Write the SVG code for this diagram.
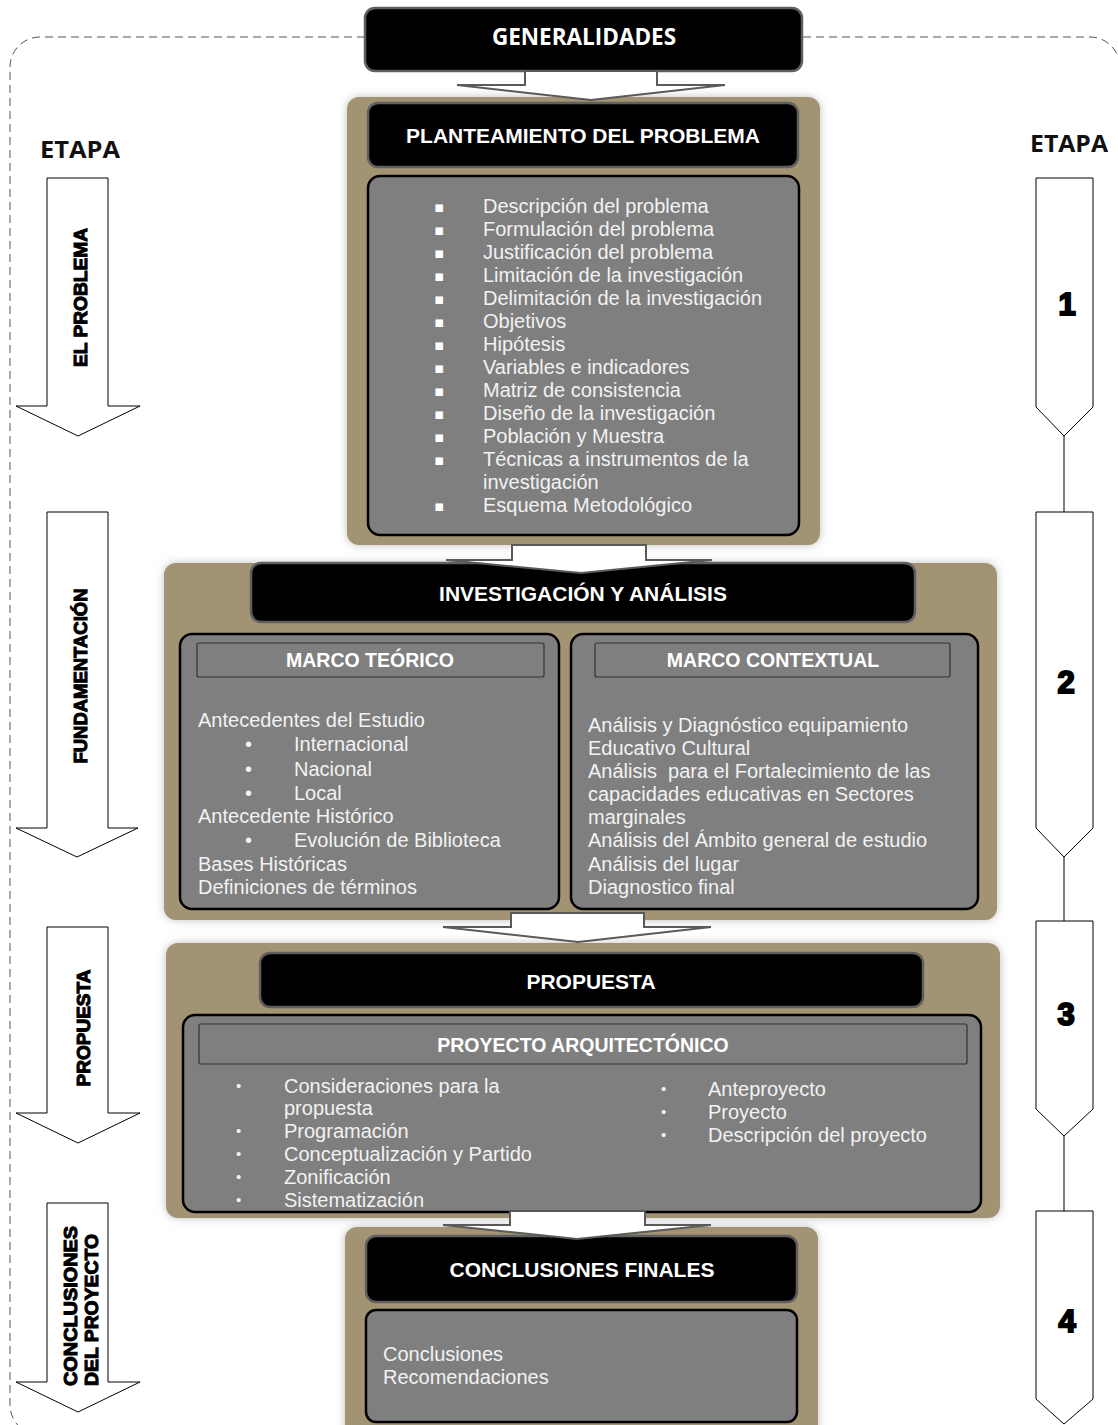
<svg xmlns="http://www.w3.org/2000/svg" width="1118" height="1425" viewBox="0 0 1118 1425">
<defs>
<filter id="sh" x="-5%" y="-5%" width="110%" height="110%">
<feDropShadow dx="0" dy="0" stdDeviation="4" flood-color="#8a8a8a" flood-opacity="0.55"/>
</filter>
<style>
.panel{fill:#A29473;filter:url(#sh)}
.hdr{fill:#000;stroke:#606060;stroke-width:2.5}
.box{fill:#7F7F7F;stroke:#000;stroke-width:2.5}
.sub{fill:#7F7F7F;stroke:#333;stroke-width:1.2}
.ht{font-family:"Liberation Sans",Arial,sans-serif;font-weight:bold;font-size:21px;fill:#fff;text-anchor:middle}
.st{font-family:"Liberation Sans",Arial,sans-serif;font-weight:bold;font-size:19.5px;fill:#fff;text-anchor:middle}
.bt{font-family:"Liberation Sans",Arial,sans-serif;font-size:20px;fill:#F2F2F2}
.sq{font-family:"DejaVu Sans",sans-serif;font-size:15px;fill:#fff}
.blk{fill:#fff;stroke:#5a5a5a;stroke-width:2}
.side{fill:#fff;stroke:#000;stroke-width:1}
.vt{font-family:"Liberation Sans",Arial,sans-serif;font-weight:bold;font-size:19px;fill:#000;stroke:#000;stroke-width:1.1}
.num{font-family:"Liberation Sans",Arial,sans-serif;font-weight:bold;font-size:31px;fill:#000;stroke:#000;stroke-width:2;text-anchor:middle}
.et{font-family:"Open Sans","Liberation Sans",sans-serif;font-weight:bold;font-size:24px;fill:#111}
</style>
</defs>
<rect width="1118" height="1425" fill="#fff"/>

<g id="frame">
<path d="M365,37 H40 A30,30 0 0 0 10,67 V1405 A30,30 0 0 0 40,1435" fill="none" stroke="#555" stroke-width="1" stroke-dasharray="8 5"/>
<path d="M803,37 H1090 A30,30 0 0 1 1120,67" fill="none" stroke="#555" stroke-width="1" stroke-dasharray="8 5"/>
</g>

<g id="etapa-left"><text class="et" x="40" y="158" textLength="80" lengthAdjust="spacingAndGlyphs">ETAPA</text></g>
<g id="etapa-right"><text class="et" x="1030" y="152" textLength="78" lengthAdjust="spacingAndGlyphs">ETAPA</text></g>

<g id="generalidades">
<rect class="hdr" x="365" y="8" width="437" height="63" rx="10"/>
<text x="584" y="45" font-family="'Open Sans','Liberation Sans',sans-serif" font-weight="bold" font-size="22.5" fill="#fff" text-anchor="middle">GENERALIDADES</text>
</g>

<g id="stage1">
<rect class="panel" x="347" y="97" width="473" height="448" rx="12"/>
<rect class="hdr" x="368" y="103" width="430" height="64" rx="10"/>
<text class="ht" x="583" y="143">PLANTEAMIENTO DEL PROBLEMA</text>
<rect class="box" x="368" y="176" width="431" height="359" rx="12"/>
<g class="sq">
<text x="434" y="212">▪</text><text x="434" y="235">▪</text><text x="434" y="258">▪</text><text x="434" y="281">▪</text><text x="434" y="304">▪</text><text x="434" y="327">▪</text><text x="434" y="350">▪</text><text x="434" y="373">▪</text><text x="434" y="396">▪</text><text x="434" y="419">▪</text><text x="434" y="442">▪</text><text x="434" y="465">▪</text><text x="434" y="511">▪</text>
</g>
<g class="bt">
<text x="483" y="213">Descripción del problema</text>
<text x="483" y="236">Formulación del problema</text>
<text x="483" y="259">Justificación del problema</text>
<text x="483" y="282">Limitación de la investigación</text>
<text x="483" y="305">Delimitación de la investigación</text>
<text x="483" y="328">Objetivos</text>
<text x="483" y="351">Hipótesis</text>
<text x="483" y="374">Variables e indicadores</text>
<text x="483" y="397">Matriz de consistencia</text>
<text x="483" y="420">Diseño de la investigación</text>
<text x="483" y="443">Población y Muestra</text>
<text x="483" y="466">Técnicas a instrumentos de la</text>
<text x="483" y="489">investigación</text>
<text x="483" y="512">Esquema Metodológico</text>
</g>
</g>

<g id="stage2">
<rect class="panel" x="164" y="563" width="833" height="357" rx="12"/>
<rect class="hdr" x="251" y="563" width="664" height="59" rx="10"/>
<text class="ht" x="583" y="601">INVESTIGACIÓN Y ANÁLISIS</text>
<g id="marco-teorico">
<rect class="box" x="180" y="634" width="379" height="275" rx="12"/>
<rect class="sub" x="197" y="643" width="347" height="34" rx="2"/>
<text class="st" x="370" y="667">MARCO TEÓRICO</text>
<g class="bt">
<text x="198" y="727">Antecedentes del Estudio</text>
<text x="245" y="751">•</text><text x="294" y="751">Internacional</text>
<text x="245" y="776">•</text><text x="294" y="776">Nacional</text>
<text x="245" y="800">•</text><text x="294" y="800">Local</text>
<text x="198" y="823">Antecedente Histórico</text>
<text x="245" y="847">•</text><text x="294" y="847">Evolución de Biblioteca</text>
<text x="198" y="871">Bases Históricas</text>
<text x="198" y="894">Definiciones de términos</text>
</g>
</g>
<g id="marco-contextual">
<rect class="box" x="571" y="634" width="407" height="275" rx="12"/>
<rect class="sub" x="595" y="643" width="355" height="34" rx="2"/>
<text class="st" x="773" y="667">MARCO CONTEXTUAL</text>
<g class="bt">
<text x="588" y="732">Análisis y Diagnóstico equipamiento</text>
<text x="588" y="755">Educativo Cultural</text>
<text x="588" y="778" xml:space="preserve">Análisis  para el Fortalecimiento de las</text>
<text x="588" y="801">capacidades educativas en Sectores</text>
<text x="588" y="824">marginales</text>
<text x="588" y="847">Análisis del Ámbito general de estudio</text>
<text x="588" y="871">Análisis del lugar</text>
<text x="588" y="894">Diagnostico final</text>
</g>
</g>
</g>

<g id="stage3">
<rect class="panel" x="166" y="943" width="834" height="275" rx="12"/>
<rect class="hdr" x="260" y="953" width="663" height="54" rx="10"/>
<text class="ht" x="591" y="989">PROPUESTA</text>
<rect class="box" x="183" y="1015" width="798" height="197" rx="12"/>
<rect class="sub" x="199" y="1024" width="768" height="40" rx="2"/>
<text class="st" x="583" y="1052">PROYECTO ARQUITECTÓNICO</text>
<g class="bt">
<text x="236" y="1091" font-size="15">•</text><text x="284" y="1093">Consideraciones para la</text>
<text x="284" y="1115">propuesta</text>
<text x="236" y="1136" font-size="15">•</text><text x="284" y="1138">Programación</text>
<text x="236" y="1159" font-size="15">•</text><text x="284" y="1161">Conceptualización y Partido</text>
<text x="236" y="1182" font-size="15">•</text><text x="284" y="1184">Zonificación</text>
<text x="236" y="1205" font-size="15">•</text><text x="284" y="1207">Sistematización</text>
<text x="661" y="1094" font-size="15">•</text><text x="708" y="1096">Anteproyecto</text>
<text x="661" y="1117" font-size="15">•</text><text x="708" y="1119">Proyecto</text>
<text x="661" y="1140" font-size="15">•</text><text x="708" y="1142">Descripción del proyecto</text>
</g>
</g>

<g id="stage4">
<rect class="panel" x="345" y="1227" width="473" height="215" rx="12"/>
<rect class="hdr" x="366" y="1236" width="431" height="66" rx="10"/>
<text class="ht" x="582" y="1277">CONCLUSIONES FINALES</text>
<rect class="box" x="366" y="1310" width="431" height="112" rx="10"/>
<g class="bt">
<text x="383" y="1361">Conclusiones</text>
<text x="383" y="1384">Recomendaciones</text>
</g>
</g>

<g id="connectors">
<polygon class="blk" points="525,71 657,71 657,85 725,85 591,100 457,85 525,85"/>
<polygon class="blk" points="512,545 646,545 646,560 712,560 581,573 446,560 512,560"/>
<polygon class="blk" points="511,913 644,913 644,927 711,927 578,942 443,927 511,927"/>
<polygon class="blk" points="510,1211 645,1211 645,1225 711,1225 577,1239 443,1225 510,1225"/>
<line x1="1064" y1="436" x2="1064" y2="512" stroke="#000" stroke-width="1"/>
<line x1="1064" y1="857" x2="1064" y2="921" stroke="#000" stroke-width="1"/>
<line x1="1064" y1="1136" x2="1064" y2="1211" stroke="#000" stroke-width="1"/>
</g>

<g id="left-1">
<polygon class="side" points="47,178 108,178 108,406 140,406 78,436 16,406 47,406"/>
<text class="vt" transform="translate(87,297.5) rotate(-90)" text-anchor="middle" textLength="139" lengthAdjust="spacingAndGlyphs">EL PROBLEMA</text>
</g>
<g id="left-2">
<polygon class="side" points="47,512 108,512 108,828 138,828 77,857 16,828 47,828"/>
<text class="vt" transform="translate(87,676) rotate(-90)" text-anchor="middle" textLength="175" lengthAdjust="spacingAndGlyphs">FUNDAMENTACIÓN</text>
</g>
<g id="left-3">
<polygon class="side" points="47,927 108,927 108,1113 140,1113 78,1143 16,1113 47,1113"/>
<text class="vt" transform="translate(90,1028) rotate(-90)" text-anchor="middle" textLength="117" lengthAdjust="spacingAndGlyphs">PROPUESTA</text>
</g>
<g id="left-4">
<polygon class="side" points="47,1203 108,1203 108,1382 140,1382 78,1412 16,1382 47,1382"/>
<text class="vt" transform="translate(77,1386) rotate(-90)" textLength="160" lengthAdjust="spacingAndGlyphs">CONCLUSIONES</text>
<text class="vt" transform="translate(98,1386) rotate(-90)" textLength="152" lengthAdjust="spacingAndGlyphs">DEL PROYECTO</text>
</g>

<g id="right-1">
<polygon class="side" points="1036,178 1093,178 1093,407 1064,436 1036,407"/>
<text class="num" x="1067" y="315">1</text>
</g>
<g id="right-2">
<polygon class="side" points="1036,512 1093,512 1093,828 1064,857 1036,828"/>
<text class="num" x="1066" y="693">2</text>
</g>
<g id="right-3">
<polygon class="side" points="1036,921 1093,921 1093,1109 1064,1136 1036,1109"/>
<text class="num" x="1066" y="1025">3</text>
</g>
<g id="right-4">
<polygon class="side" points="1036,1211 1093,1211 1093,1399 1064,1424 1036,1399"/>
<text class="num" x="1067" y="1332">4</text>
</g>
</svg>
